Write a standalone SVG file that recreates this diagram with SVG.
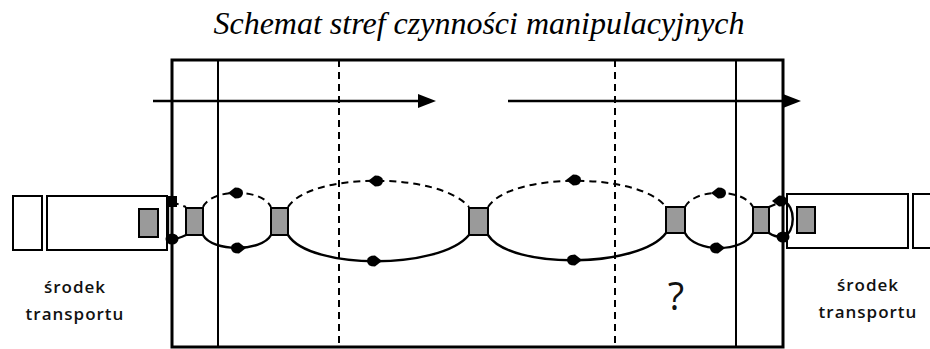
<svg xmlns="http://www.w3.org/2000/svg" width="930" height="349" viewBox="0 0 930 349">
<style>
.frame{fill:none;stroke:#000;stroke-width:3}
.wall{fill:none;stroke:#000;stroke-width:2}
.zone{fill:none;stroke:#000;stroke-width:2;stroke-dasharray:7 5}
.veh{fill:#fff;stroke:#000;stroke-width:2}
.box{fill:#9a9a9a;stroke:#000;stroke-width:2}
.ret{fill:none;stroke:#000;stroke-width:2;stroke-dasharray:7 5}
.go{fill:none;stroke:#000;stroke-width:2.4}
.flow{fill:none;stroke:#000;stroke-width:2.5}
.lbl{font-family:"Open Sans","DejaVu Sans",sans-serif;font-size:17px;font-weight:600;letter-spacing:1px;fill:#111;text-anchor:middle}
.title{font-family:"Liberation Serif","Times New Roman",serif;font-style:italic;font-size:32px;fill:#000;text-anchor:middle}
</style>
<defs>
<path id="hl" d="M-9,0 L-2,-5.5 Q6,-5.5 6,0 Q6,5.5 -2,5.5 Z" fill="#000"/>
<path id="hr" d="M9,0 L2,-5.5 Q-6,-5.5 -6,0 Q-6,5.5 2,5.5 Z" fill="#000"/>
</defs>

<text class="title" x="479" y="34">Schemat stref czynności manipulacyjnych</text>

<g id="hall">
<rect class="frame" x="172" y="60" width="611" height="287"/>
<line class="wall" x1="218" y1="60" x2="218" y2="347"/>
<line class="wall" x1="736" y1="60" x2="736" y2="347"/>
<line class="zone" x1="339" y1="60" x2="339" y2="347"/>
<line class="zone" x1="615" y1="60" x2="615" y2="347"/>
</g>

<g id="vehicle-left">
<rect class="veh" x="13" y="196" width="29" height="54"/>
<rect class="veh" x="47" y="196" width="120" height="54"/>
<text class="lbl" x="75" y="293">środek</text>
<text class="lbl" x="75" y="320">transportu</text>
</g>
<g id="vehicle-right">
<rect class="veh" x="787" y="194" width="121" height="54"/>
<rect class="veh" x="913" y="194" width="30" height="54"/>
<text class="lbl" x="868" y="291">środek</text>
<text class="lbl" x="868" y="318">transportu</text>
</g>

<g id="question">
<text x="676" y="310" style="font-family:'Open Sans','DejaVu Sans',sans-serif;font-size:38px;fill:#111;text-anchor:middle">?</text>
</g>

<g id="connectors">
<line class="flow" x1="153" y1="101" x2="421" y2="101"/>
<path d="M436,101 L418,94 L418,108 Z" fill="#000"/>
<line class="flow" x1="508" y1="101" x2="786" y2="101"/>
<path d="M801,101 L783,94 L783,108 Z" fill="#000"/>

<path class="ret" d="M172,202 L186,207"/>
<path class="ret" d="M203,207 C212,188 262,188 271,207"/>
<path class="ret" d="M288,207 C310,172 440,172 469,207"/>
<path class="ret" d="M488,207 C510,172 640,172 666,207"/>
<path class="ret" d="M685,207 C695,188 743,188 753,207"/>
<path class="ret" d="M769,207 L783,201"/>

<path class="go" d="M172,239 C178,239 182,237 186,235"/>
<path class="go" d="M203,235 C212,252 262,252 271,235"/>
<path class="go" d="M288,235 C310,270 440,270 469,235"/>
<path class="go" d="M488,235 C510,270 640,268 666,233"/>
<path class="go" d="M685,233 C695,253 743,253 753,233"/>
<path class="go" d="M769,233 C773,236 778,237 783,237"/>

<path class="go" d="M168,202 L168,239"/>
<path class="go" d="M783,201 C796,205 796,233 783,237"/>

<rect x="166" y="196" width="11" height="11" fill="#000"/>
<ellipse cx="172" cy="239" rx="6.5" ry="5.5" fill="#000"/>
<use href="#hl" x="781" y="201"/>
<ellipse cx="783" cy="237" rx="6.5" ry="5.5" fill="#000"/>

<use href="#hl" x="237" y="193"/>
<use href="#hl" x="377" y="181"/>
<use href="#hl" x="575" y="180"/>
<use href="#hl" x="720" y="193"/>

<use href="#hr" x="237" y="248"/>
<use href="#hr" x="373" y="261"/>
<use href="#hr" x="573" y="260"/>
<use href="#hr" x="716" y="248"/>
</g>

<g id="load-1"><rect class="box" x="139" y="209" width="19" height="28"/></g>
<g id="load-2"><rect class="box" x="186" y="208" width="17" height="27"/></g>
<g id="load-3"><rect class="box" x="271" y="208" width="17" height="27"/></g>
<g id="load-4"><rect class="box" x="469" y="208" width="19" height="27"/></g>
<g id="load-5"><rect class="box" x="666" y="207" width="19" height="26"/></g>
<g id="load-6"><rect class="box" x="753" y="207" width="16" height="26"/></g>
<g id="load-7"><rect class="box" x="797" y="207" width="18" height="26"/></g>
</svg>
